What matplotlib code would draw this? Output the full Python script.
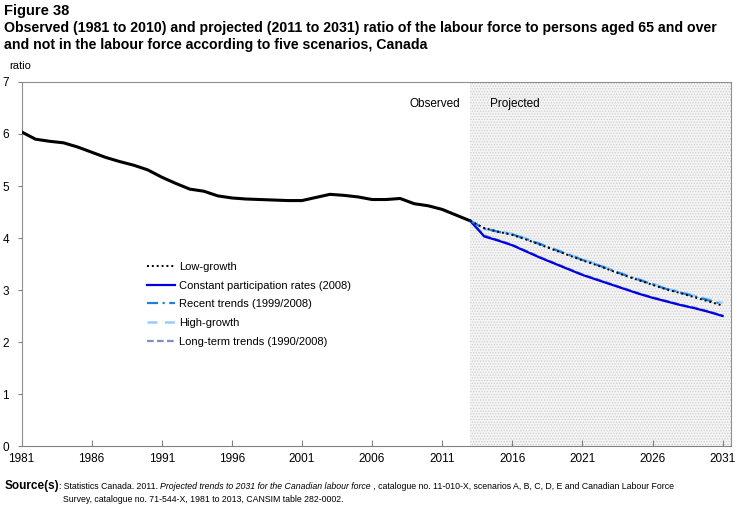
import matplotlib
matplotlib.use("Agg")
import matplotlib.pyplot as plt

plt.rcParams['font.family'] = ['Liberation Sans', 'DejaVu Sans']
plt.rcParams['hatch.linewidth'] = 0.6

# observed 1981-2013
obs_years = list(range(1981, 2014))
observed = [6.04, 5.90, 5.86, 5.83, 5.75, 5.65, 5.55, 5.47, 5.40, 5.31,
            5.17, 5.05, 4.94, 4.90, 4.81, 4.77, 4.75, 4.74, 4.73, 4.72,
            4.72, 4.78, 4.84, 4.82, 4.79, 4.74, 4.74, 4.76, 4.66, 4.62,
            4.55, 4.44, 4.33]

# projections 2013-2031
proj_years = list(range(2013, 2032))
low_growth = [4.33, 4.19, 4.12, 4.06, 3.97, 3.87, 3.77, 3.67, 3.57, 3.48,
              3.38, 3.28, 3.19, 3.10, 3.01, 2.94, 2.86, 2.78, 2.70]
constant_rates = [4.33, 4.03, 3.95, 3.86, 3.74, 3.62, 3.51, 3.40, 3.29, 3.20,
                  3.11, 3.02, 2.93, 2.85, 2.78, 2.71, 2.65, 2.58, 2.50]
recent_trends = [4.33, 4.18, 4.12, 4.07, 3.98, 3.88, 3.78, 3.68, 3.58, 3.49,
                 3.39, 3.29, 3.20, 3.11, 3.02, 2.95, 2.88, 2.80, 2.73]
high_growth = [4.33, 4.18, 4.13, 4.08, 3.99, 3.89, 3.79, 3.69, 3.59, 3.50,
               3.40, 3.30, 3.21, 3.12, 3.03, 2.96, 2.89, 2.82, 2.75]
long_term = [4.33, 4.05, 3.96, 3.87, 3.75, 3.63, 3.52, 3.41, 3.30, 3.21,
             3.12, 3.03, 2.94, 2.86, 2.79, 2.72, 2.66, 2.59, 2.51]

xticks = list(range(1981, 2032, 5))
yticks = list(range(0, 8))

fig = plt.figure(figsize=(7.37, 5.08), dpi=100)
ax = fig.add_axes([0.0292, 0.122, 0.9627, 0.7166])

ax.axvspan(2013, 2032, facecolor='#f4f4f4', edgecolor='#cfcfcf',
           hatch='......', linewidth=0, zorder=0)

ax.plot(obs_years, observed, color='black', lw=2.2, zorder=3)
ax.plot(proj_years, long_term, color='#8090c0', lw=1.6, ls=(0, (3, 1.5)),
        label='Long-term trends (1990/2008)', zorder=3)
ax.plot(proj_years, constant_rates, color='#0000e0', lw=1.6,
        label='Constant participation rates (2008)', zorder=4)
ax.plot(proj_years, high_growth, color='#99ccff', lw=1.8, ls=(0, (4, 3)),
        label='High-growth', zorder=3)
ax.plot(proj_years, recent_trends, color='#2080e0', lw=1.6, ls=(0, (5, 2, 1, 2)),
        label='Recent trends (1999/2008)', zorder=4)
ax.plot(proj_years, low_growth, color='black', lw=1.4, ls=(0, (1, 1.5)),
        label='Low-growth', zorder=5)

ax.set_xlim(1981, 2031.6)
ax.set_ylim(0, 7)
ax.set_xticks(xticks)
ax.set_xticklabels([str(y) for y in xticks], fontsize=8.5)
ax.set_yticks(yticks)
ax.set_yticklabels([str(y) for y in yticks], fontsize=8.5)
ax.tick_params(axis='x', direction='in', length=4, pad=5, color='#808080')
ax.tick_params(axis='y', direction='out', length=3, pad=6, color='#808080')
for side in ['top', 'right', 'left']:
    ax.spines[side].set_linestyle((0, (1, 1)))
    ax.spines[side].set_color('#909090')
ax.spines['bottom'].set_color('#808080')

handles, labels = ax.get_legend_handles_labels()
order = ['Low-growth', 'Constant participation rates (2008)',
         'Recent trends (1999/2008)', 'High-growth', 'Long-term trends (1990/2008)']
hl = [handles[labels.index(n)] for n in order]
ax.legend(hl, order, loc='upper left', bbox_to_anchor=(0.17, 0.518),
          frameon=False, fontsize=8, handlelength=2.6, handletextpad=0.3,
          labelspacing=0.78, borderaxespad=0)

ax.text(2012.3, 6.58, 'Observed', ha='right', va='center', fontsize=8.5)
ax.text(2014.4, 6.58, 'Projected', ha='left', va='center', fontsize=8.5)

fig.text(0.006, 0.993, 'Figure 38', fontsize=10.5, fontweight='bold', va='top')
fig.text(0.006, 0.959, 'Observed (1981 to 2010) and projected (2011 to 2031) ratio of the labour force to persons aged 65 and over',
         fontsize=10.2, fontweight='bold', va='top')
fig.text(0.006, 0.925, 'and not in the labour force according to five scenarios, Canada',
         fontsize=10.2, fontweight='bold', va='top')
fig.text(0.013, 0.88, 'ratio', fontsize=8, va='top')

# source note, built from pieces
fig.canvas.draw()
renderer = fig.canvas.get_renderer()
y1 = 0.038
x = 0.006
pieces = [('Source(s)', dict(fontweight='bold', fontsize=8.5)),
          (': Statistics Canada. 2011. ', dict(fontsize=6.3)),
          ('Projected trends to 2031 for the Canadian labour force', dict(fontsize=6.3, style='italic')),
          (' , catalogue no. 11-010-X, scenarios A, B, C, D, E and Canadian Labour Force', dict(fontsize=6.3))]
indent = None
for txt, kw in pieces:
    t = fig.text(x, y1, txt, va='baseline', **kw)
    bb = t.get_window_extent(renderer)
    if indent is None:
        indent = x + bb.width / fig.bbox.width
    x += bb.width / fig.bbox.width
fig.text(indent + 0.006, 0.012, 'Survey, catalogue no. 71-544-X, 1981 to 2013, CANSIM table 282-0002.',
         va='baseline', fontsize=6.3)

fig.savefig('out.png', dpi=100)
